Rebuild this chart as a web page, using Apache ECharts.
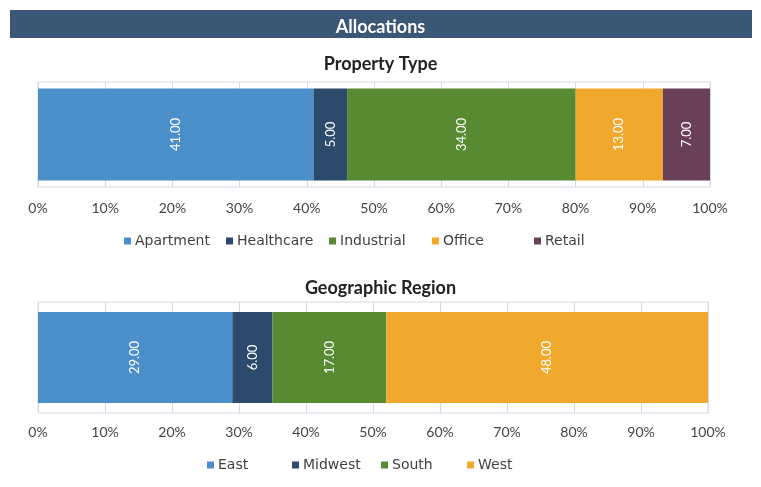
<!DOCTYPE html>
<html>
<head>
<meta charset="utf-8">
<script src="https://cdn.jsdelivr.net/npm/echarts@6/dist/echarts.min.js"></script>
<style>
html,body{margin:0;padding:0;background:#fff;}
#main{width:761px;height:487px;}
</style>
</head>
<body>
<div id="main"></div>
<script>
// Data
var propertyTypes = ['Apartment', 'Healthcare', 'Industrial', 'Office', 'Retail'];
var propertyValues = [41, 5, 34, 13, 7];
var regions = ['East', 'Midwest', 'South', 'West'];
var regionValues = [29, 6, 17, 48];
var pctTicks = ['0%','10%','20%','30%','40%','50%','60%','70%','80%','90%','100%'];

var propertyColors = ['#4a8fca', '#2c4b6c', '#578a31', '#f1a92d', '#6a3f5a'];
var regionColors = ['#4a8fca', '#2c4b6c', '#578a31', '#f1a92d'];
var FONT = 'Lato, "DejaVu Sans", sans-serif';
var LEGFONT = '"DejaVu Sans", sans-serif';

var chart = echarts.init(document.getElementById('main'), null, {renderer: 'canvas'});

function makeX(gridIndex, margin) {
  return {
    type: 'value', gridIndex: gridIndex, min: 0, max: 100, interval: 10,
    axisLine: {show: false}, axisTick: {show: false},
    splitLine: {show: true, lineStyle: {color: '#d3dbe6', width: 1}},
    axisLabel: {
      color: '#444', fontSize: 14, fontFamily: FONT, margin: margin,
      formatter: function (v) { return pctTicks[Math.round(v / 10)]; }
    }
  };
}
function makeY(gridIndex) {
  return {
    type: 'category', gridIndex: gridIndex, data: ['All'],
    axisLine: {show: false}, axisTick: {show: false}, axisLabel: {show: false}
  };
}

var series = [];
propertyTypes.forEach(function (name, i) {
  series.push({
    name: name, type: 'bar', stack: 'p', xAxisIndex: 0, yAxisIndex: 0,
    barWidth: 92, itemStyle: {color: propertyColors[i]},
    label: {show: true, position: 'inside', rotate: 90, color: '#fff', fontSize: 13, fontFamily: FONT,
      formatter: function (p) { return p.value.toFixed(2); }},
    data: [propertyValues[i]]
  });
});
regions.forEach(function (name, i) {
  series.push({
    name: name, type: 'bar', stack: 'r', xAxisIndex: 1, yAxisIndex: 1,
    barWidth: 91, itemStyle: {color: regionColors[i]},
    label: {show: true, position: 'inside', rotate: 90, color: '#fff', fontSize: 13, fontFamily: FONT,
      formatter: function (p) { return p.value.toFixed(2); }},
    data: [regionValues[i]]
  });
});

var legendPos1 = [119, 221, 324, 427, 529];
var legendPos2 = [202, 287, 376, 462];
var legends = [];
function legendItem(name, left, top) {
  return {
    data: [name], left: left, top: top, itemWidth: 7, itemHeight: 7, itemGap: 4,
    icon: 'rect', selectedMode: false,
    textStyle: {color: '#404040', fontSize: 14, fontFamily: LEGFONT, padding: [0, 0, 0, -1]}
  };
}
propertyTypes.forEach(function (n, i) { legends.push(legendItem(n, legendPos1[i], 229)); });
regions.forEach(function (n, i) { legends.push(legendItem(n, legendPos2[i], 453)); });

chart.setOption({
  backgroundColor: '#ffffff',
  animation: false,
  graphic: [{
    type: 'rect', shape: {x: 10, y: 10, width: 742, height: 28},
    style: {fill: '#3b5776'}, z: 0
  }],
  title: [
    {text: 'Allocations', left: 'center', top: 13,
      textStyle: {color: '#fff', fontSize: 18, fontWeight: 'bold', fontFamily: FONT}},
    {text: 'Property Type', left: 'center', top: 50,
      textStyle: {color: '#222', fontSize: 18, fontWeight: 'bold', fontFamily: FONT}},
    {text: 'Geographic Region', left: 'center', top: 274,
      textStyle: {color: '#222', fontSize: 18, fontWeight: 'bold', fontFamily: FONT}}
  ],
  legend: legends,
  grid: [
    {left: 38, right: 51, top: 82, height: 105, show: true, borderColor: '#d3dbe6', borderWidth: 1, containLabel: false},
    {left: 38, right: 53, top: 302, height: 111, show: true, borderColor: '#d3dbe6', borderWidth: 1, containLabel: false}
  ],
  xAxis: [makeX(0, 14), makeX(1, 12)],
  yAxis: [makeY(0), makeY(1)],
  series: series
});
</script>
</body>
</html>
